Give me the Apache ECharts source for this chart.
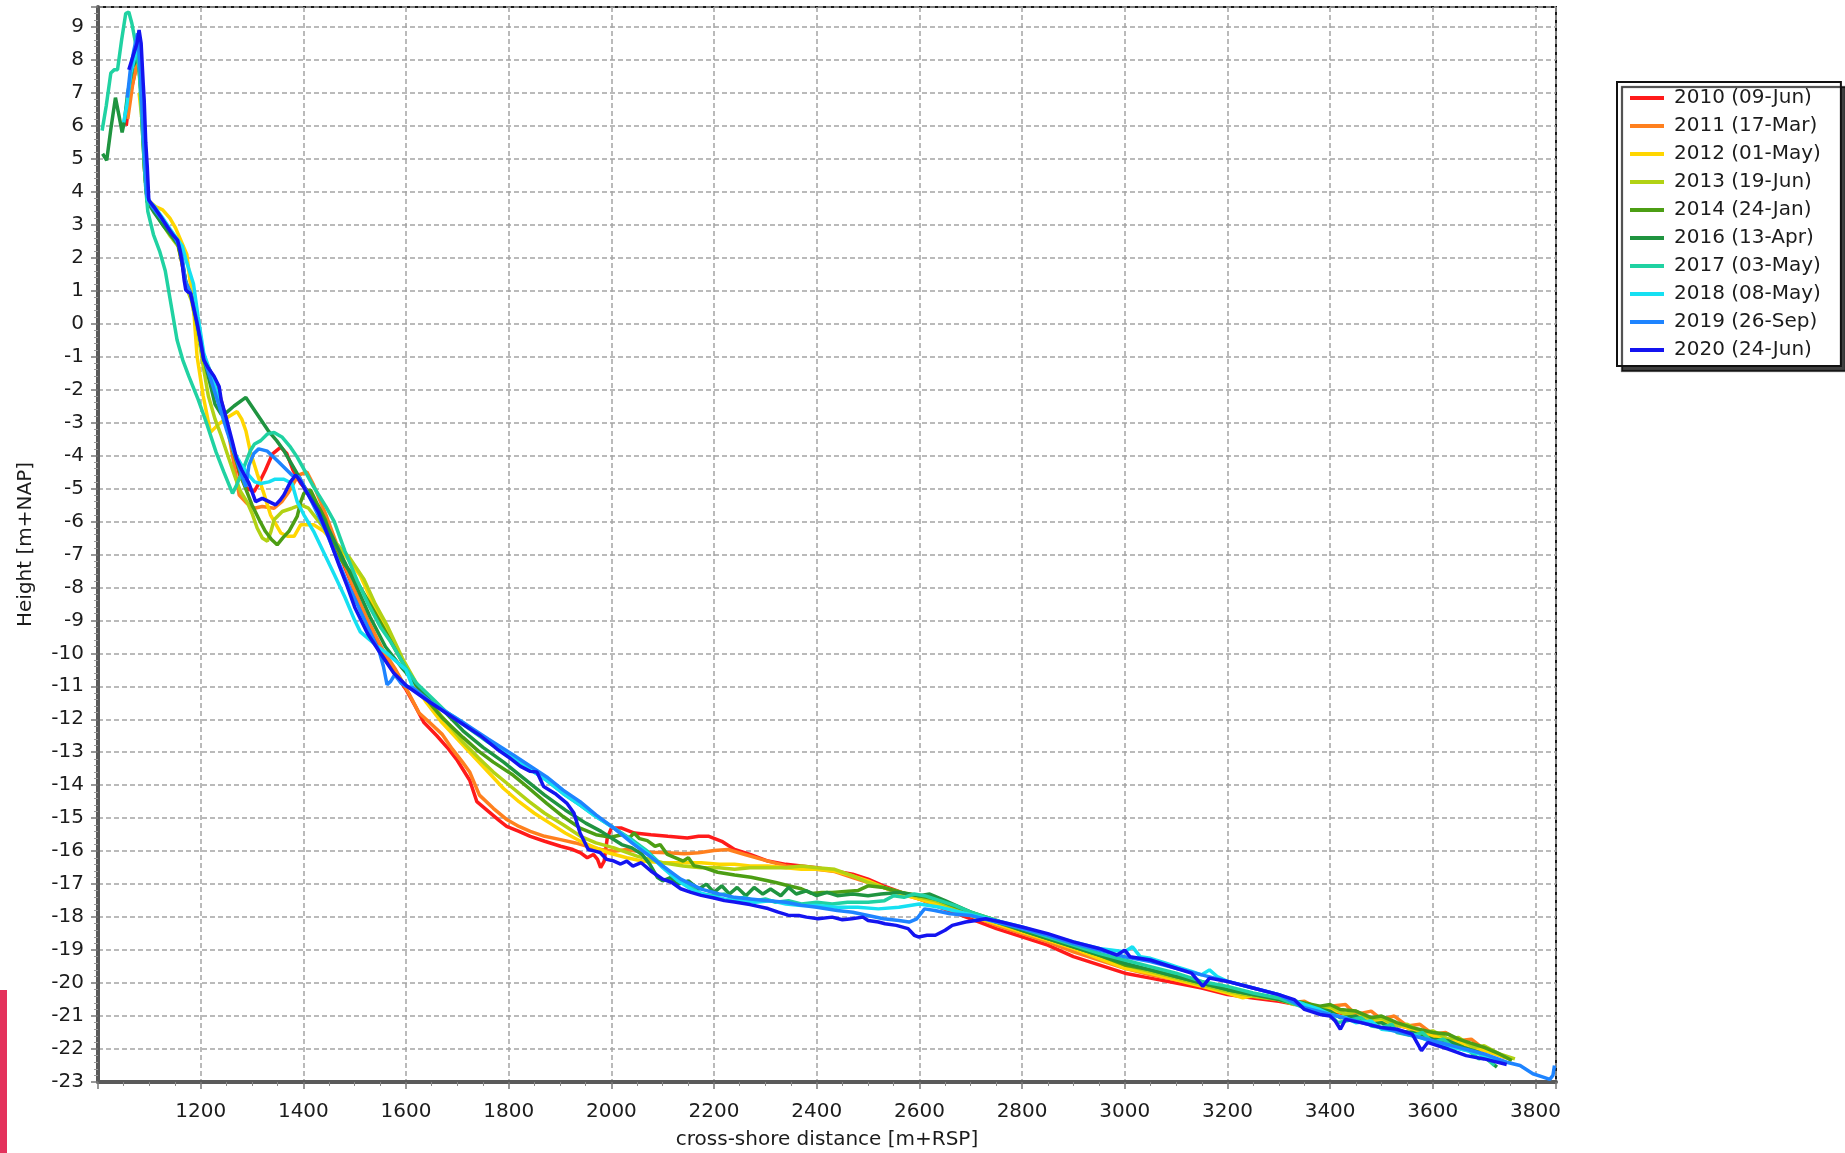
<!DOCTYPE html>
<html>
<head>
<meta charset="utf-8">
<title>Cross-shore profiles</title>
<script src="https://cdn.jsdelivr.net/npm/echarts@6/dist/echarts.min.js"></script>
<style>
  html, body { margin: 0; padding: 0; background: #fff; }
  #main { width: 1845px; height: 1153px; }
</style>
</head>
<body>
<div id="main"></div>
<script>
// profile measurements, [cross-shore distance (m+RSP), height (m+NAP)]
const names = ['2010 (09-Jun)', '2011 (17-Mar)', '2012 (01-May)', '2013 (19-Jun)', '2014 (24-Jan)',
  '2016 (13-Apr)', '2017 (03-May)', '2018 (08-May)', '2019 (26-Sep)', '2020 (24-Jun)']
const colors = ['#ff1a1a', '#ff801e', '#ffd600', '#b2d214', '#4c9e14',
  '#1f9440', '#20d2a2', '#16e0f2', '#1e84ff', '#1414f0']

const xTicks = [1200, 1400, 1600, 1800, 2000, 2200, 2400, 2600, 2800, 3000, 3200, 3400, 3600, 3800]
const yTicks = [9, 8, 7, 6, 5, 4, 3, 2, 1, 0, -1, -2, -3, -4, -5, -6, -7, -8, -9, -10, -11,
  -12, -13, -14, -15, -16, -17, -18, -19, -20, -21, -22, -23]

const p2010 = [[1055,6.0],[1062,6.9],[1072,7.6],[1080,8.0],[1086,6.5],[1091,4.6],[1096,3.7],[1110,3.45],[1126,3.05],[1141,2.7],[1156,2.4],[1164,1.8],[1172,1.1],[1182,0.8],[1194,-0.1],[1207,-1.1],[1222,-1.6],[1236,-2.2],[1248,-2.9],[1262,-3.8],[1276,-4.6],[1290,-5.0],[1304,-5.1],[1315,-4.8],[1326,-4.45],[1340,-3.95],[1356,-3.75],[1368,-3.95],[1380,-4.45],[1395,-4.85],[1410,-5.1],[1444,-5.9],[1481,-7.4],[1505,-8.3],[1526,-9.1],[1550,-9.9],[1578,-10.6],[1600,-11.1],[1618,-11.6],[1635,-12.1],[1660,-12.5],[1680,-12.85],[1700,-13.25],[1724,-13.85],[1738,-14.5],[1761,-14.8],[1780,-15.05],[1796,-15.25],[1820,-15.4],[1842,-15.55],[1870,-15.7],[1901,-15.85],[1925,-15.95],[1940,-16.05],[1953,-16.2],[1965,-16.1],[1973,-16.25],[1979,-16.5],[1986,-16.3],[1992,-15.6],[2000,-15.3],[2020,-15.3],[2045,-15.45],[2077,-15.5],[2110,-15.55],[2148,-15.6],[2170,-15.55],[2190,-15.55],[2215,-15.7],[2240,-15.95],[2270,-16.1],[2305,-16.3],[2340,-16.4],[2370,-16.45],[2400,-16.5],[2435,-16.6],[2470,-16.7],[2500,-16.85],[2530,-17.05],[2565,-17.25],[2600,-17.45],[2631,-17.65],[2665,-17.85],[2700,-18.05],[2750,-18.35],[2800,-18.6],[2850,-18.85],[2900,-19.2],[2950,-19.45],[3000,-19.7],[3050,-19.85],[3100,-20.0],[3150,-20.15],[3200,-20.35],[3250,-20.45],[3300,-20.55],[3350,-20.7],[3400,-20.85],[3450,-21.0],[3500,-21.15],[3550,-21.35],[3600,-21.6],[3650,-21.8],[3700,-22.05]]

const p2011 = [[1058,6.2],[1068,7.3],[1078,8.0],[1085,6.8],[1091,4.7],[1096,3.75],[1110,3.5],[1126,3.1],[1141,2.75],[1156,2.45],[1164,1.85],[1172,1.1],[1182,0.85],[1194,-0.05],[1207,-1.05],[1222,-1.55],[1236,-2.1],[1248,-2.8],[1262,-4.0],[1275,-5.2],[1290,-5.45],[1304,-5.6],[1320,-5.55],[1343,-5.6],[1358,-5.4],[1372,-5.1],[1390,-4.6],[1407,-4.5],[1420,-4.9],[1444,-5.8],[1470,-6.9],[1500,-8.1],[1526,-9.0],[1555,-9.9],[1580,-10.5],[1605,-11.2],[1625,-11.8],[1646,-12.1],[1670,-12.45],[1690,-12.9],[1710,-13.3],[1724,-13.6],[1743,-14.3],[1770,-14.7],[1797,-15.05],[1820,-15.25],[1842,-15.4],[1870,-15.55],[1901,-15.65],[1930,-15.75],[1953,-15.85],[1980,-15.95],[2005,-16.0],[2030,-15.95],[2050,-16.0],[2077,-16.03],[2110,-16.05],[2142,-16.08],[2170,-16.05],[2200,-15.98],[2227,-15.95],[2260,-16.1],[2305,-16.3],[2340,-16.45],[2370,-16.5],[2400,-16.55],[2435,-16.62],[2470,-16.8],[2500,-16.95],[2540,-17.15],[2565,-17.3],[2600,-17.45],[2630,-17.6],[2665,-17.8],[2700,-17.95],[2750,-18.25],[2800,-18.5],[2850,-18.75],[2900,-19.05],[2950,-19.3],[3000,-19.55],[3050,-19.75],[3100,-19.9],[3150,-20.05],[3200,-20.25],[3250,-20.4],[3300,-20.5],[3325,-20.6],[3350,-20.55],[3375,-20.75],[3400,-20.7],[3430,-20.65],[3450,-20.95],[3480,-20.85],[3500,-21.1],[3525,-21.0],[3550,-21.3],[3575,-21.25],[3600,-21.55],[3625,-21.5],[3650,-21.75],[3675,-21.7],[3700,-22.0],[3740,-22.25]]

const p2012 = [[1080,7.0],[1087,6.0],[1092,4.6],[1097,3.75],[1112,3.55],[1126,3.45],[1140,3.2],[1151,2.9],[1162,2.5],[1173,2.1],[1180,1.2],[1187,0.3],[1193,-1.0],[1205,-2.2],[1219,-3.3],[1235,-3.05],[1252,-2.85],[1271,-2.67],[1280,-2.9],[1288,-3.25],[1297,-3.9],[1310,-4.55],[1323,-5.15],[1336,-5.8],[1356,-6.35],[1369,-6.45],[1382,-6.45],[1395,-6.1],[1401,-6.1],[1420,-6.1],[1440,-6.3],[1466,-6.75],[1490,-7.2],[1511,-7.65],[1530,-8.3],[1555,-9.1],[1575,-9.75],[1593,-10.25],[1615,-10.9],[1640,-11.5],[1670,-12.1],[1700,-12.6],[1730,-13.1],[1760,-13.6],[1790,-14.1],[1820,-14.5],[1850,-14.85],[1880,-15.15],[1910,-15.45],[1940,-15.7],[1970,-15.9],[1992,-16.04],[2030,-16.2],[2060,-16.3],[2100,-16.35],[2140,-16.35],[2175,-16.35],[2210,-16.4],[2240,-16.4],[2270,-16.45],[2305,-16.45],[2340,-16.5],[2370,-16.55],[2400,-16.55],[2435,-16.6],[2470,-16.75],[2500,-16.9],[2530,-17.1],[2565,-17.3],[2600,-17.45],[2630,-17.6],[2665,-17.75],[2700,-17.95],[2750,-18.2],[2800,-18.45],[2850,-18.7],[2900,-18.95],[2950,-19.25],[3000,-19.55],[3050,-19.7],[3100,-19.9],[3150,-20.1],[3200,-20.3],[3230,-20.45],[3260,-20.35],[3300,-20.5],[3350,-20.65],[3400,-20.8],[3450,-21.0],[3500,-21.15],[3550,-21.35],[3600,-21.6],[3650,-21.8],[3700,-22.05],[3750,-22.3]]

const p2013 = [[1085,6.5],[1091,4.6],[1096,3.7],[1110,3.45],[1126,3.0],[1141,2.65],[1156,2.35],[1164,1.8],[1172,1.1],[1182,0.7],[1194,-0.2],[1205,-1.3],[1215,-2.2],[1228,-2.9],[1240,-3.4],[1255,-4.1],[1268,-4.7],[1278,-5.1],[1290,-5.4],[1300,-5.75],[1310,-6.2],[1320,-6.5],[1330,-6.6],[1337,-6.3],[1343,-5.95],[1359,-5.7],[1378,-5.6],[1395,-5.5],[1410,-5.6],[1430,-6.0],[1460,-6.6],[1490,-7.1],[1518,-7.75],[1540,-8.5],[1563,-9.15],[1593,-10.15],[1620,-10.9],[1650,-11.55],[1680,-12.1],[1711,-12.7],[1740,-13.15],[1770,-13.6],[1809,-14.1],[1840,-14.5],[1870,-14.85],[1906,-15.2],[1940,-15.55],[1970,-15.75],[2005,-15.9],[2050,-16.15],[2100,-16.35],[2140,-16.45],[2175,-16.5],[2210,-16.5],[2240,-16.55],[2270,-16.5],[2305,-16.5],[2340,-16.5],[2370,-16.45],[2400,-16.5],[2435,-16.55],[2470,-16.75],[2500,-16.95],[2530,-17.1],[2565,-17.25],[2600,-17.4],[2630,-17.5],[2665,-17.7],[2700,-17.9],[2750,-18.15],[2800,-18.4],[2850,-18.65],[2900,-18.9],[2950,-19.15],[3000,-19.45],[3050,-19.65],[3100,-19.85],[3150,-20.05],[3200,-20.25],[3250,-20.4],[3300,-20.5],[3330,-20.65],[3350,-20.6],[3380,-20.8],[3400,-20.7],[3430,-20.95],[3450,-20.85],[3480,-21.1],[3500,-21.05],[3530,-21.3],[3550,-21.25],[3580,-21.5],[3600,-21.45],[3630,-21.7],[3650,-21.65],[3680,-21.95],[3700,-21.9],[3730,-22.15],[3760,-22.3]]

const p2014 = [[1085,6.3],[1091,4.6],[1096,3.7],[1110,3.4],[1126,3.0],[1141,2.7],[1156,2.4],[1164,1.85],[1172,1.2],[1182,0.85],[1194,0.0],[1206,-1.1],[1222,-1.6],[1236,-2.2],[1248,-2.9],[1262,-3.8],[1280,-4.7],[1300,-5.5],[1314,-5.95],[1326,-6.3],[1338,-6.55],[1349,-6.71],[1360,-6.5],[1372,-6.3],[1388,-5.85],[1395,-5.4],[1401,-5.15],[1414,-5.05],[1428,-5.5],[1443,-5.95],[1463,-6.95],[1480,-7.3],[1496,-7.6],[1526,-8.4],[1555,-9.2],[1585,-10.05],[1610,-10.75],[1640,-11.4],[1670,-11.95],[1711,-12.55],[1740,-12.95],[1770,-13.3],[1809,-13.7],[1840,-14.1],[1874,-14.55],[1906,-14.95],[1939,-15.3],[1970,-15.5],[1999,-15.58],[2020,-15.5],[2035,-15.6],[2044,-15.45],[2055,-15.62],[2070,-15.68],[2085,-15.85],[2095,-15.8],[2109,-16.1],[2125,-16.2],[2140,-16.3],[2150,-16.2],[2161,-16.44],[2180,-16.5],[2207,-16.64],[2240,-16.72],[2272,-16.79],[2300,-16.88],[2320,-16.95],[2345,-17.05],[2370,-17.14],[2390,-17.28],[2410,-17.25],[2430,-17.25],[2455,-17.22],[2481,-17.19],[2500,-17.05],[2530,-17.1],[2565,-17.25],[2600,-17.35],[2631,-17.45],[2665,-17.65],[2700,-17.85],[2750,-18.1],[2800,-18.4],[2850,-18.65],[2900,-18.9],[2950,-19.15],[3000,-19.45],[3050,-19.6],[3100,-19.8],[3150,-20.0],[3200,-20.2],[3250,-20.35],[3300,-20.45],[3350,-20.6],[3380,-20.7],[3400,-20.65],[3420,-20.8],[3450,-20.85],[3480,-21.05],[3500,-21.0],[3530,-21.2],[3560,-21.35],[3600,-21.5],[3630,-21.55],[3650,-21.7],[3680,-21.85],[3700,-21.95],[3730,-22.15],[3754,-22.35]]

const p2016 = [[1009,5.15],[1017,4.95],[1025,5.9],[1034,6.85],[1041,6.3],[1047,5.8],[1051,6.1],[1058,7.0],[1068,7.8],[1078,8.1],[1085,6.8],[1091,4.7],[1096,3.7],[1110,3.35],[1126,3.0],[1141,2.7],[1156,2.4],[1164,1.9],[1172,1.15],[1182,0.85],[1194,-0.05],[1206,-1.05],[1218,-1.8],[1228,-2.45],[1240,-2.75],[1250,-2.7],[1265,-2.5],[1288,-2.24],[1310,-2.75],[1333,-3.28],[1348,-3.55],[1362,-3.85],[1375,-4.2],[1388,-4.55],[1400,-4.9],[1420,-5.4],[1445,-6.1],[1470,-6.9],[1500,-7.85],[1530,-8.9],[1560,-9.8],[1590,-10.4],[1620,-10.95],[1650,-11.4],[1680,-11.85],[1711,-12.35],[1750,-12.85],[1790,-13.3],[1830,-13.8],[1870,-14.3],[1910,-14.75],[1950,-15.15],[1980,-15.4],[2000,-15.6],[2020,-15.8],[2040,-15.9],[2060,-16.1],[2075,-16.4],[2090,-16.8],[2100,-16.9],[2115,-16.8],[2130,-17.0],[2150,-16.9],[2170,-17.15],[2185,-17.0],[2200,-17.25],[2215,-17.05],[2230,-17.3],[2245,-17.1],[2262,-17.35],[2278,-17.1],[2295,-17.3],[2310,-17.15],[2330,-17.35],[2345,-17.1],[2360,-17.3],[2380,-17.2],[2400,-17.35],[2420,-17.25],[2440,-17.35],[2470,-17.3],[2500,-17.35],[2525,-17.3],[2560,-17.25],[2600,-17.35],[2620,-17.3],[2650,-17.5],[2700,-17.85],[2750,-18.15],[2800,-18.4],[2850,-18.65],[2900,-18.9],[2950,-19.15],[3000,-19.4],[3050,-19.6],[3100,-19.8],[3150,-20.0],[3200,-20.2],[3250,-20.35],[3300,-20.5],[3350,-20.7],[3400,-20.85],[3420,-21.05],[3450,-21.0],[3480,-21.25],[3500,-21.2],[3530,-21.45],[3560,-21.5],[3600,-21.7],[3630,-21.75],[3660,-21.95],[3690,-22.1],[3725,-22.55]]

const p2017 = [[1008,5.85],[1016,6.6],[1025,7.6],[1032,7.7],[1038,7.7],[1046,8.6],[1054,9.4],[1060,9.45],[1066,9.1],[1072,8.6],[1080,7.75],[1086,6.0],[1092,4.3],[1097,3.4],[1108,2.7],[1120,2.2],[1131,1.6],[1142,0.6],[1154,-0.5],[1165,-1.1],[1177,-1.6],[1195,-2.3],[1211,-3.0],[1230,-3.9],[1245,-4.5],[1262,-5.15],[1270,-4.9],[1278,-4.6],[1288,-4.2],[1297,-3.85],[1305,-3.65],[1317,-3.55],[1330,-3.35],[1343,-3.3],[1359,-3.45],[1375,-3.75],[1388,-4.05],[1404,-4.5],[1420,-4.95],[1444,-5.55],[1460,-6.0],[1481,-6.9],[1505,-7.8],[1526,-8.5],[1550,-9.2],[1570,-9.65],[1600,-10.45],[1620,-10.9],[1650,-11.35],[1680,-11.8],[1711,-12.15],[1760,-12.7],[1809,-13.15],[1840,-13.5],[1874,-13.85],[1906,-14.25],[1939,-14.6],[1970,-14.95],[2005,-15.3],[2040,-15.65],[2070,-16.0],[2100,-16.45],[2130,-16.85],[2155,-17.1],[2175,-17.3],[2200,-17.35],[2220,-17.3],[2240,-17.45],[2260,-17.4],[2280,-17.5],[2300,-17.45],[2320,-17.55],[2345,-17.5],[2370,-17.6],[2400,-17.55],[2430,-17.6],[2460,-17.55],[2500,-17.55],[2532,-17.5],[2550,-17.35],[2570,-17.4],[2590,-17.3],[2610,-17.35],[2640,-17.5],[2670,-17.65],[2700,-17.85],[2750,-18.1],[2800,-18.35],[2850,-18.6],[2900,-18.85],[2950,-19.1],[3000,-19.3],[3050,-19.5],[3100,-19.7],[3150,-19.95],[3200,-20.1],[3250,-20.3],[3300,-20.45],[3350,-20.75],[3375,-20.85],[3400,-20.95],[3415,-21.2],[3430,-21.15],[3460,-21.05],[3480,-21.3],[3500,-21.35],[3520,-21.25],[3530,-21.5],[3560,-21.6],[3580,-21.5],[3600,-21.8],[3620,-21.7],[3640,-21.95],[3670,-22.05],[3690,-22.3],[3700,-22.2],[3720,-22.5]]

const p2018 = [[1050,6.1],[1056,6.6],[1064,7.6],[1072,8.1],[1080,8.5],[1086,7.0],[1092,4.8],[1097,3.75],[1110,3.55],[1126,3.2],[1141,2.85],[1155,2.55],[1164,2.35],[1172,1.9],[1180,1.5],[1186,1.2],[1195,0.2],[1206,-0.9],[1222,-1.6],[1236,-2.3],[1250,-3.1],[1265,-3.9],[1280,-4.3],[1291,-4.55],[1305,-4.8],[1317,-4.85],[1333,-4.8],[1345,-4.72],[1362,-4.72],[1378,-4.85],[1388,-5.4],[1401,-5.8],[1420,-6.3],[1443,-7.05],[1460,-7.6],[1481,-8.3],[1500,-9.0],[1511,-9.35],[1526,-9.55],[1545,-9.8],[1563,-10.0],[1585,-10.3],[1600,-10.5],[1615,-11.1],[1630,-11.3],[1660,-11.6],[1711,-12.1],[1760,-12.65],[1809,-13.15],[1840,-13.5],[1874,-13.85],[1906,-14.25],[1939,-14.6],[1970,-14.95],[2005,-15.3],[2040,-15.7],[2070,-16.05],[2100,-16.5],[2130,-16.9],[2160,-17.2],[2190,-17.35],[2220,-17.45],[2250,-17.5],[2280,-17.55],[2310,-17.5],[2340,-17.6],[2370,-17.65],[2400,-17.65],[2440,-17.7],[2480,-17.7],[2520,-17.75],[2560,-17.7],[2600,-17.6],[2640,-17.7],[2680,-17.85],[2720,-18.0],[2760,-18.15],[2800,-18.3],[2850,-18.55],[2900,-18.75],[2950,-18.95],[3000,-19.05],[3015,-18.9],[3030,-19.2],[3050,-19.25],[3080,-19.4],[3100,-19.5],[3130,-19.65],[3150,-19.75],[3165,-19.6],[3180,-19.8],[3200,-19.95],[3250,-20.15],[3300,-20.35],[3350,-20.65],[3380,-20.8],[3400,-20.95],[3430,-21.05],[3450,-21.2],[3480,-21.15],[3500,-21.4],[3530,-21.45],[3560,-21.55],[3600,-21.8],[3640,-21.95],[3680,-22.1],[3720,-22.3],[3740,-22.4]]

const p2019 = [[1057,6.85],[1063,7.7],[1070,8.3],[1077,8.8],[1083,7.5],[1089,5.5],[1095,3.9],[1105,3.55],[1120,3.25],[1135,2.95],[1150,2.6],[1158,2.35],[1164,2.0],[1170,1.3],[1180,0.95],[1193,0.05],[1206,-1.05],[1222,-1.8],[1236,-2.5],[1250,-3.2],[1265,-3.9],[1280,-4.6],[1288,-4.95],[1294,-4.3],[1303,-3.95],[1313,-3.8],[1330,-3.87],[1352,-4.2],[1378,-4.6],[1392,-4.65],[1410,-5.2],[1444,-6.3],[1481,-7.7],[1518,-8.95],[1548,-9.95],[1556,-10.4],[1563,-10.95],[1570,-10.85],[1578,-10.65],[1590,-10.9],[1600,-11.0],[1614,-11.05],[1650,-11.5],[1711,-12.1],[1760,-12.6],[1809,-13.08],[1840,-13.4],[1874,-13.75],[1906,-14.15],[1939,-14.5],[1970,-14.9],[2005,-15.3],[2040,-15.75],[2070,-16.1],[2100,-16.45],[2135,-16.85],[2175,-17.15],[2210,-17.3],[2240,-17.4],[2270,-17.45],[2305,-17.5],[2340,-17.55],[2370,-17.64],[2400,-17.7],[2440,-17.8],[2470,-17.85],[2500,-17.95],[2530,-18.05],[2560,-18.1],[2580,-18.15],[2595,-18.05],[2610,-17.75],[2630,-17.8],[2660,-17.9],[2700,-17.95],[2750,-18.15],[2800,-18.35],[2850,-18.55],[2900,-18.8],[2950,-19.0],[3000,-19.2],[3050,-19.35],[3100,-19.55],[3150,-19.75],[3200,-19.95],[3250,-20.15],[3300,-20.35],[3350,-20.75],[3400,-20.95],[3450,-21.15],[3500,-21.35],[3550,-21.55],[3600,-21.75],[3650,-21.95],[3700,-22.15],[3744,-22.4],[3770,-22.5],[3795,-22.75],[3815,-22.85],[3828,-22.92],[3834,-22.8],[3837,-22.5]]

const p2020 = [[1060,7.7],[1066,8.0],[1072,8.3],[1076,8.5],[1080,8.9],[1084,8.5],[1088,7.3],[1090,6.77],[1093,5.5],[1096,4.75],[1099,3.74],[1109,3.54],[1122,3.25],[1135,2.93],[1145,2.7],[1155,2.53],[1160,2.2],[1164,1.82],[1168,1.3],[1171,1.02],[1176,0.95],[1180,0.92],[1186,0.5],[1193,0.0],[1200,-0.55],[1206,-1.1],[1215,-1.35],[1226,-1.6],[1236,-1.91],[1240,-2.32],[1249,-2.82],[1262,-3.6],[1270,-4.1],[1280,-4.44],[1294,-4.84],[1307,-5.4],[1320,-5.3],[1333,-5.4],[1346,-5.5],[1355,-5.35],[1362,-5.2],[1375,-4.8],[1385,-4.59],[1395,-4.8],[1404,-5.05],[1429,-5.7],[1450,-6.5],[1470,-7.35],[1485,-7.95],[1500,-8.6],[1525,-9.4],[1550,-10.0],[1576,-10.6],[1602,-11.0],[1648,-11.5],[1711,-12.15],[1745,-12.5],[1777,-12.9],[1800,-13.15],[1823,-13.43],[1842,-13.58],[1855,-13.6],[1868,-14.04],[1890,-14.25],[1913,-14.54],[1927,-14.84],[1939,-15.45],[1955,-15.95],[1968,-16.0],[1978,-16.04],[1991,-16.25],[2005,-16.3],[2018,-16.39],[2030,-16.3],[2042,-16.45],[2058,-16.35],[2077,-16.6],[2100,-16.85],[2118,-16.95],[2135,-17.14],[2155,-17.25],[2175,-17.34],[2200,-17.42],[2220,-17.5],[2240,-17.54],[2270,-17.62],[2305,-17.74],[2325,-17.85],[2344,-17.94],[2365,-17.95],[2380,-18.0],[2403,-18.05],[2430,-18.0],[2450,-18.08],[2468,-18.05],[2490,-18.0],[2500,-18.1],[2520,-18.15],[2533,-18.2],[2555,-18.25],[2578,-18.35],[2590,-18.55],[2598,-18.6],[2615,-18.55],[2631,-18.55],[2650,-18.4],[2664,-18.25],[2690,-18.15],[2710,-18.1],[2729,-18.05],[2760,-18.15],[2800,-18.3],[2850,-18.5],[2900,-18.75],[2950,-18.95],[2985,-19.15],[3000,-19.0],[3010,-19.2],[3050,-19.3],[3100,-19.55],[3130,-19.7],[3152,-20.1],[3165,-19.85],[3200,-19.95],[3250,-20.15],[3300,-20.35],[3330,-20.5],[3350,-20.8],[3380,-20.95],[3400,-21.0],[3410,-21.15],[3420,-21.4],[3430,-21.1],[3460,-21.2],[3500,-21.35],[3530,-21.4],[3560,-21.55],[3578,-22.05],[3590,-21.8],[3600,-21.85],[3630,-22.0],[3665,-22.2],[3700,-22.3],[3744,-22.47]]

const profiles = [p2010, p2011, p2012, p2013, p2014, p2016, p2017, p2018, p2019, p2020]

const chartDom = document.getElementById('main')
const myChart = echarts.init(chartDom, null, { renderer: 'canvas' })

const fontFamily = 'DejaVu Sans'
const gridLine = { show: true, lineStyle: { color: '#a4a4a4', width: 1.5, type: [5, 3] } }

const option = {
  animation: false,
  backgroundColor: '#ffffff',
  textStyle: { fontFamily: fontFamily },
  grid: {
    left: 98,
    top: 7,
    right: 289,
    bottom: 71,
    outerBoundsMode: 'none',
    show: true,
    borderColor: '#1a1a1a',
    borderWidth: 2
  },
  legend: {
    orient: 'vertical',
    left: 1617,
    top: 82,
    padding: [6, 20, 6, 13],
    itemGap: 8,
    itemWidth: 34,
    itemHeight: 4,
    icon: 'rect',
    backgroundColor: '#ffffff',
    borderColor: '#111',
    borderWidth: 2,
    shadowColor: 'rgba(0,0,0,0.75)',
    shadowBlur: 1,
    shadowOffsetX: 5,
    shadowOffsetY: 5,
    textStyle: { fontFamily: fontFamily, fontSize: 20, lineHeight: 20, color: '#1c1c1c', padding: [0, 0, 0, 5] },
    data: names
  },
  xAxis: {
    type: 'value',
    min: 1000,
    max: 3840,
    interval: 200,
    name: 'cross-shore distance [m+RSP]',
    nameLocation: 'middle',
    nameGap: 48,
    nameTextStyle: { fontFamily: fontFamily, fontSize: 20, color: '#1c1c1c' },
    axisLine: { show: true, onZero: false, lineStyle: { color: '#5a5a5a', width: 4 } },
    axisTick: { show: true, length: 7, lineStyle: { color: '#777', width: 1.5 } },
    minorTick: { show: true, splitNumber: 4, length: 4, lineStyle: { color: '#888' } },
    axisLabel: {
      showMinLabel: false,
      showMaxLabel: false,
      margin: 20,
      fontSize: 20,
      color: '#1c1c1c',
      formatter: v => (xTicks.indexOf(v) >= 0 ? String(v) : '')
    },
    splitLine: gridLine
  },
  yAxis: {
    type: 'value',
    min: -23,
    max: 9.6,
    interval: 1,
    name: 'Height [m+NAP]',
    nameLocation: 'middle',
    nameGap: 62,
    nameRotate: 90,
    nameTextStyle: { fontFamily: fontFamily, fontSize: 20, color: '#1c1c1c' },
    axisLine: { show: true, onZero: false, lineStyle: { color: '#5a5a5a', width: 4 } },
    axisTick: { show: true, length: 7, lineStyle: { color: '#777', width: 1.5 } },
    minorTick: { show: true, splitNumber: 5, length: 4, lineStyle: { color: '#999' } },
    axisLabel: {
      showMaxLabel: false,
      margin: 14,
      fontSize: 20,
      color: '#1c1c1c',
      formatter: v => (yTicks.indexOf(v) >= 0 ? String(v) : '')
    },
    splitLine: gridLine
  },
  graphic: [
    {
      type: 'rect',
      left: 0,
      top: 990,
      shape: { width: 7, height: 163 },
      style: { fill: '#e4325c' }
    }
  ],
  series: profiles.map((p, i) => ({
    name: names[i],
    type: 'line',
    data: p,
    showSymbol: false,
    symbol: 'none',
    lineStyle: { color: colors[i], width: 3.5 },
    itemStyle: { color: colors[i] },
    emphasis: { disabled: true },
    z: 2 + i
  }))
}

myChart.setOption(option)
</script>
</body>
</html>
